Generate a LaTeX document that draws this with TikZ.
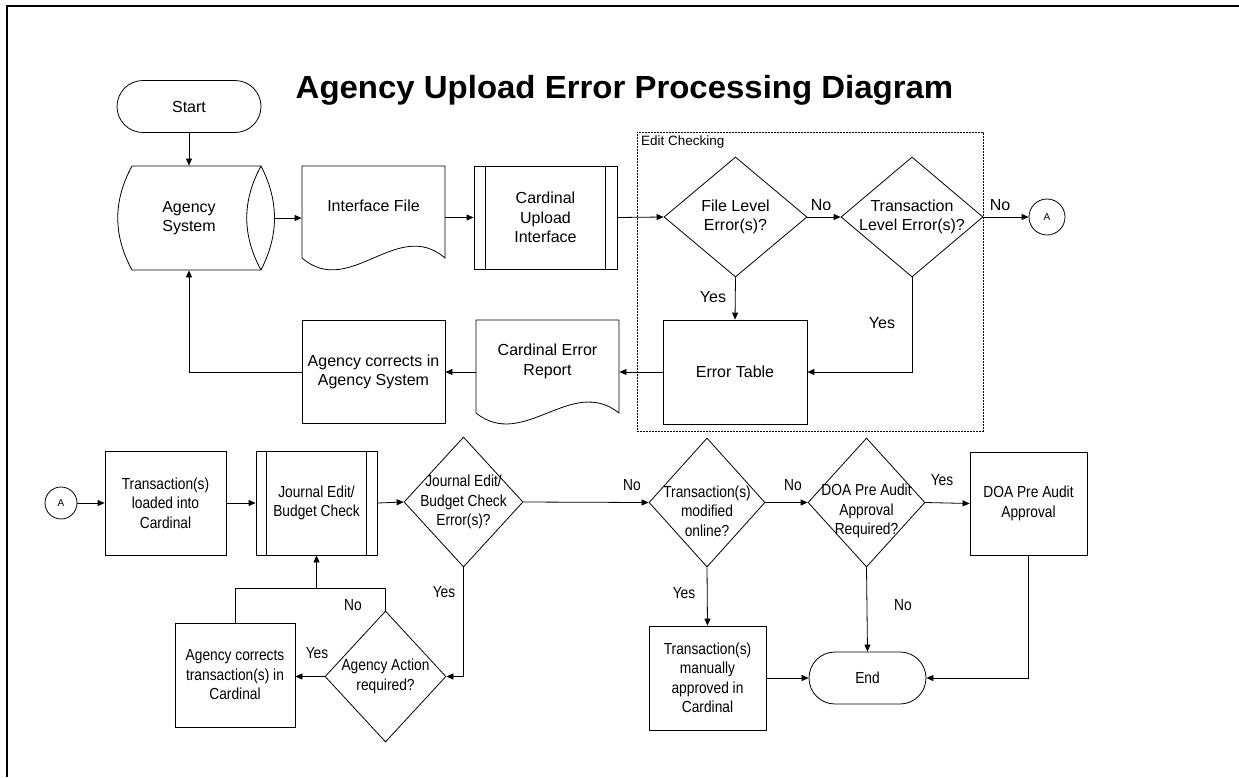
\documentclass[tikz,border=0pt]{standalone}
\usepackage{fontspec}
\setmainfont{Liberation Sans}
\newfontfamily\condfont[FakeStretch=0.86]{Liberation Sans}
\newfontfamily\titlefont[FakeStretch=1.03]{Liberation Sans}
\usetikzlibrary{arrows.meta,shapes.geometric}
\begin{document}
\begin{tikzpicture}[x=1pt,y=-1pt,line width=0.8pt,
  every node/.style={font=\fontsize{16}{19.5}\selectfont,align=center,inner sep=0pt},
  box/.style={draw,rectangle,minimum width=#1},
  box/.default=121,
  term/.style={draw,rectangle,rounded corners=26pt,minimum height=52},
  dia/.style={draw,diamond,inner sep=0pt},
  conn/.style={draw,circle,inner sep=0pt,font=\fontsize{10}{12}\selectfont},
  area/.style={rectangle},
  arr/.style={-{Triangle[length=7pt,width=6pt]}},
  lbl/.style={}]
\useasboundingbox (0,0) rectangle (1239,777);
% frame
\draw[line width=2pt] (7,777) -- (7,6) -- (1239,6);
% title
\node[anchor=base,font=\titlefont\bfseries\fontsize{32}{36}\selectfont] (title) at (624.5,98) {Agency Upload Error Processing Diagram};

% ---------- top row ----------
\node[term,minimum width=144] (start) at (189,106.5) {Start};

\node[area,minimum width=142,minimum height=104] (as) at (189,218) {Agency\\System};
\draw (132,166) -- (261,166) .. controls (279,201) and (279,235) .. (261,270)
      -- (132,270) .. controls (113,235) and (113,201) .. cycle;
\draw (261,270) .. controls (242,235) and (242,201) .. (261,166);
\coordinate (asE) at (274,218);

\node[area,minimum width=143,minimum height=92] (if) at (373.5,212) {};
\draw (302,258) .. controls (349.7,299) and (397.3,217) .. (445,258) -- (445,166) -- (302,166) -- cycle;
\node (ift) at (373.5,206) {Interface File};

\node[box=143,minimum height=103] (cu) at (545.5,217.5) {Cardinal\\Upload\\Interface};
\draw ([xshift=12]cu.north west) -- ([xshift=12]cu.south west);
\draw ([xshift=-12]cu.north east) -- ([xshift=-12]cu.south east);

\node[draw,dash pattern=on 2pt off 1pt,line width=0.6pt,minimum width=346,minimum height=299] (ec) at (810,281.5) {};
\node[anchor=north west,font=\fontsize{13.5}{16}\selectfont] (ect) at ([shift={(4,4)}]ec.north west) {Edit Checking};

\node[dia,minimum width=143,minimum height=120] (fl) at (735.5,217) {};
\node (flt) at (fl) {File Level\\Error(s)?};
\node[dia,minimum width=142,minimum height=120] (tl) at (912,217) {};
\node (tlt) at (tl) {Transaction\\Level Error(s)?};
\node[conn,minimum size=36] (a1) at (1047,217) {A};

\node[box=144,minimum height=104] (et) at (735,372) {Error Table};

\node[area,minimum width=143,minimum height=93] (er) at (547.5,366.5) {};
\draw (476,413) .. controls (523.7,451) and (571.3,375) .. (619,413) -- (619,320) -- (476,320) -- cycle;
\node (ert) at (547.5,361.5) {Cardinal Error\\Report};

\node[box=143,minimum height=103] (ac) at (373.5,372) {Agency corrects in\\Agency System};

% top connectors
\draw[arr] (start.south) -- (as.north);
\draw[arr] (asE) -- (asE -| if.west);
\draw[arr] (if.east |- cu.west) -- (cu.west);
\draw[arr] (cu.east) -- (fl.west);
\draw[arr] (fl.east) -- (tl.west);
\node[lbl] (no1) at (821,205) {No};
\draw[arr] (tl.east) -- (a1.west);
\node[lbl] (no2) at (1000,205) {No};
\draw[arr] (fl.south) -- (et.north);
\node[lbl] (yes1) at (713,297) {Yes};
\draw[arr] (tl.south) |- (et.east);
\node[lbl] (yes2) at (882,323) {Yes};
\draw[arr] (et.west) -- (et.west -| er.east);
\draw[arr] (er.west |- ac.east) -- (ac.east);
\draw[arr] (ac.west) -| (as.south);

% ---------- bottom row ----------
\begin{scope}[every node/.append style={font=\condfont\fontsize{16}{19.5}\selectfont}]
\node[conn,minimum size=32] (a2) at (61,503) {A};
\node[box=121,minimum height=104] (tlc) at (165.5,503) {Transaction(s)\\loaded into\\Cardinal};
\node[box=121,minimum height=104] (je) at (316.5,503) {Journal Edit/\\Budget Check};
\draw ([xshift=11]je.north west) -- ([xshift=11]je.south west);
\draw ([xshift=-11]je.north east) -- ([xshift=-11]je.south east);
\node[dia,minimum width=119,minimum height=130] (jd) at (463.5,502) {};
\node (jdt) at (jd) {Journal Edit/\\Budget Check\\Error(s)?};
\node[dia,minimum width=121,minimum height=131] (aa) at (385.5,676.5) {};
\node (aat) at (aa) {Agency Action\\required?};
\node[box=120,minimum height=104] (act) at (235,675) {Agency corrects\\transaction(s) in\\Cardinal};
\node[dia,minimum width=116,minimum height=129] (tm) at (707,502.5) {};
\node[yshift=-8.5] (tmt) at (tm) {Transaction(s)\\modified\\online?};
\node[dia,minimum width=117,minimum height=129] (dd) at (866.5,502.5) {};
\node[yshift=-8.5] (ddt) at (dd) {DOA Pre Audit\\Approval\\Required?};
\node[box=117,minimum height=103] (dap) at (1028.5,503.5) {DOA Pre Audit\\Approval};
\node[term,minimum width=117] (end) at (867.5,678) {End};
\node[box=117,minimum height=104] (tma) at (707.5,678) {Transaction(s)\\manually\\approved in\\Cardinal};
\coordinate (jm) at (316.5,588);

% bottom connectors
\draw[arr] (a2.east) -- (tlc.west);
\draw[arr] (tlc.east) -- (je.west);
\draw[arr] (je.east) -- (jd.west);
\draw[arr] (jd.south) |- (aa.east);
\node[lbl] (yes3) at (444,592) {Yes};
\draw[arr] (aa.west) -- (aa.west -| act.east);
\node[lbl] (yes4) at (317,653) {Yes};
\draw (aa.north) |- (jm);
\draw (act.north) |- (jm);
\draw[arr] (jm) -- (je.south);
\node[lbl] (no3) at (353,605) {No};
\draw[arr] (jd.east) -- (tm.west);
\node[lbl] (no4) at (632,485) {No};
\draw[arr] (tm.east) -- (dd.west);
\node[lbl] (no5) at (793,485) {No};
\draw[arr] (dd.east) -- (dap.west);
\node[lbl] (yes5) at (942,480) {Yes};
\draw[arr] (dd.south) -- (end.north);
\node[lbl] (no6) at (903,605) {No};
\draw[arr] (tm.south) -- (tma.north);
\node[lbl] (yes6) at (684,593) {Yes};
\draw[arr] (tma.east) -- (end.west);
\draw[arr] (dap.south) |- (end.east);
\end{scope}
\end{tikzpicture}
\end{document}
